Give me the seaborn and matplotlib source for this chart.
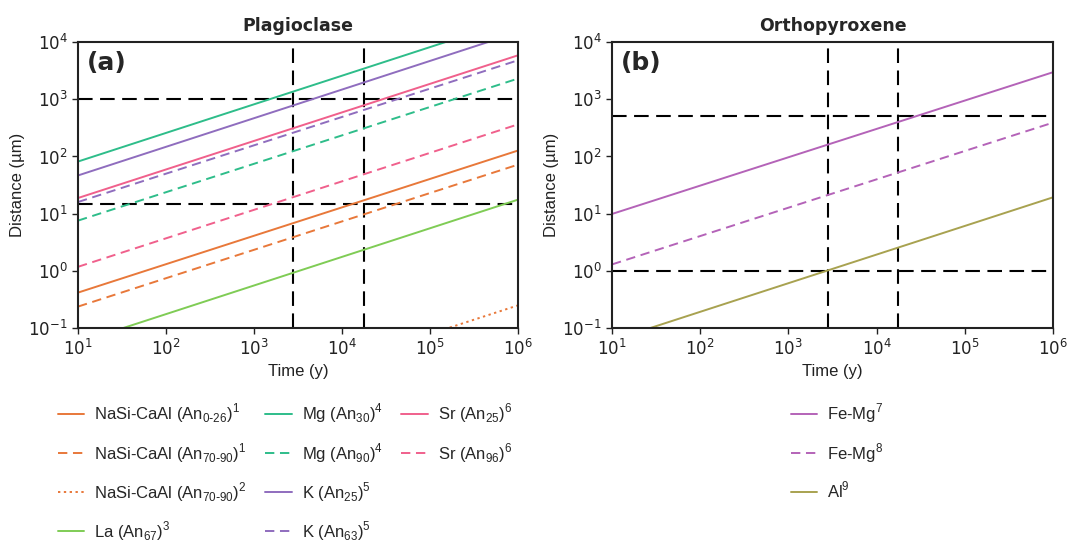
import numpy as np
import pandas as pd
import matplotlib
matplotlib.use("Agg")
import matplotlib.pyplot as plt
import seaborn as sns
from matplotlib.lines import Line2D
from matplotlib.ticker import LogLocator, NullLocator

# ---------------- data ----------------
time_ends = [10, 1e6]  # years (left and right ends of each diffusion line)

plag_labels = [
    r"NaSi-CaAl (An$_{\mathregular{0\text{-}26}}$)$^{\mathregular{1}}$",
    r"NaSi-CaAl (An$_{\mathregular{70\text{-}90}}$)$^{\mathregular{1}}$",
    r"NaSi-CaAl (An$_{\mathregular{70\text{-}90}}$)$^{\mathregular{2}}$",
    r"La (An$_{\mathregular{67}}$)$^{\mathregular{3}}$",
    r"Mg (An$_{\mathregular{30}}$)$^{\mathregular{4}}$",
    r"Mg (An$_{\mathregular{90}}$)$^{\mathregular{4}}$",
    r"K (An$_{\mathregular{25}}$)$^{\mathregular{5}}$",
    r"K (An$_{\mathregular{63}}$)$^{\mathregular{5}}$",
    r"Sr (An$_{\mathregular{25}}$)$^{\mathregular{6}}$",
    r"Sr (An$_{\mathregular{96}}$)$^{\mathregular{6}}$",
]
plag_dist_start = [0.418, 0.238, 7.9e-4, 0.0556, 81.6, 7.57, 46.6, 16.0, 18.8, 1.18]
plag_dist_end = [127, 72, 0.25, 17.6, 25800, 2300, 14800, 4800, 5860, 364]
plag_colors = ["#E8783A", "#E8783A", "#E8783A", "#7FCC55", "#2EBD8A",
               "#2EBD8A", "#8F6DBE", "#8F6DBE", "#F0608C", "#F0608C"]
plag_styles = ["solid", "dashed", "dotted", "solid", "solid",
               "dashed", "solid", "dashed", "solid", "dashed"]

opx_labels = [r"Fe-Mg$^{\mathregular{7}}$", r"Fe-Mg$^{\mathregular{8}}$", r"Al$^{\mathregular{9}}$"]
opx_dist_start = [9.9, 1.3, 0.061]
opx_dist_end = [2965, 390, 19.3]
opx_colors = ["#B463B8", "#B463B8", "#A8A250"]
opx_styles = ["solid", "dashed", "solid"]

ref_times = [2800, 17600]
plag_ref_dist = [15, 1000]
opx_ref_dist = [1, 500]

# ---------------- style ----------------
sns.set_style("ticks")
plt.rcParams["font.family"] = ["DejaVu Sans"]
LAB = "Liberation Sans"

ls_map = {"solid": "-", "dashed": (0, (4.8, 2.9)), "dotted": (0, (1.2, 1.8))}

fig = plt.figure(figsize=(10.7, 5.46), dpi=100)
ax_a = fig.add_axes([0.0729, 0.399, 0.4112, 0.524])
ax_b = fig.add_axes([0.572, 0.399, 0.412, 0.524])


def draw_panel(ax, labels, starts, ends, colors, styles, ref_d, title, tag):
    for lab, s, e, c, st in zip(labels, starts, ends, colors, styles):
        df = pd.DataFrame({"t": time_ends, "d": [s, e]})
        sns.lineplot(data=df, x="t", y="d", ax=ax, color=c, linewidth=1.4,
                     linestyle=ls_map[st], label=lab)
    for t in ref_times:
        ax.axvline(t, color="black", lw=1.5, ls=(0, (7, 3.6)), zorder=1)
    for d in ref_d:
        ax.axhline(d, color="black", lw=1.5, ls=(0, (7, 3.6)), zorder=1)
    ax.set_xscale("log")
    ax.set_yscale("log")
    ax.set_xlim(10, 1e6)
    ax.set_ylim(0.1, 1e4)
    ax.xaxis.set_major_locator(LogLocator(base=10, numticks=10))
    ax.yaxis.set_major_locator(LogLocator(base=10, numticks=10))
    ax.xaxis.set_minor_locator(NullLocator())
    ax.yaxis.set_minor_locator(NullLocator())
    ax.tick_params(axis="both", which="major", direction="out", length=4,
                   width=1.0, labelsize=12, colors="#222222")
    for sp in ax.spines.values():
        sp.set_linewidth(1.5)
        sp.set_color("#222222")
    ax.set_xlabel("Time (y)", fontsize=12, family=LAB, color="#222222")
    ax.set_ylabel("Distance (µm)", fontsize=12, family=LAB, color="#222222",
                  labelpad=2)
    ax.set_title(title, fontsize=12.5, fontweight="bold", pad=8)
    ax.text(0.02, 0.925, tag, transform=ax.transAxes, fontsize=18,
            fontweight="bold", va="center", ha="left")
    lg = ax.get_legend()
    if lg is not None:
        lg.remove()


draw_panel(ax_a, plag_labels, plag_dist_start, plag_dist_end, plag_colors,
           plag_styles, plag_ref_dist, "Plagioclase", "(a)")
draw_panel(ax_b, opx_labels, opx_dist_start, opx_dist_end, opx_colors,
           opx_styles, opx_ref_dist, "Orthopyroxene", "(b)")

# legends
h_a, l_a = ax_a.get_legend_handles_labels()
blank = Line2D([], [], color="none")
h_a = h_a + [blank, blank]
l_a = l_a + ["", ""]
fig.legend(h_a, l_a, loc="upper left", bbox_to_anchor=(0.054, 0.264), ncol=3,
           frameon=False, prop={"family": LAB, "size": 12}, handlelength=1.6,
           handletextpad=0.6, columnspacing=1.1, labelspacing=0.93,
           borderaxespad=0, borderpad=0)

h_b, l_b = ax_b.get_legend_handles_labels()
fig.legend(h_b, l_b, loc="upper left", bbox_to_anchor=(0.739, 0.264), ncol=1,
           frameon=False, prop={"family": LAB, "size": 12}, handlelength=1.6,
           handletextpad=0.6, labelspacing=0.93, borderaxespad=0, borderpad=0)

fig.savefig("out.png", dpi=100)
